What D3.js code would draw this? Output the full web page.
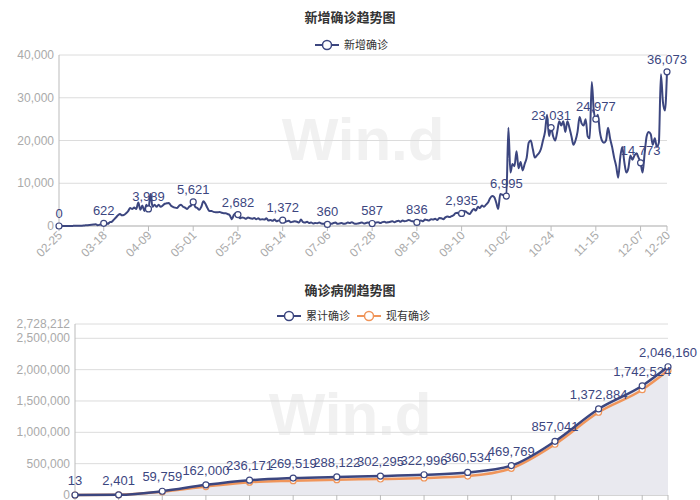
<!DOCTYPE html>
<html><head><meta charset="utf-8">
<script src="https://cdn.jsdelivr.net/npm/d3@7"></script>
<style>
body{margin:0;background:#fff;font-family:"Liberation Sans","Noto Sans CJK SC",sans-serif;}
</style></head><body><div id="chart"></div>
<script>
// daily new cases, 02-25 .. 12-20
const dailyNew = [].concat(
  [0,0,5,10,10,15,20,30,40,50,60,80,100,150,200,250,300,350,400,200,300,450],
  [622,800,500,900,1000,1500,2000,2500,2800,2500,2600,3000,3500,4200,4000,4300,4000,5500,3800,4800,3500,5000],
  [3989,7500,4500,5000,4500,5000,4500,4800,5200,5300,5400,4800,4500,4300,4200,4700,5000,4500,4300,4000,4500,4800],
  [5621,4500,4200,3800,4500,5800,5200,4200,3500,3500,3300,3200,3200,3300,3100,3000,3000,2800,2500,1600,2600,3000],
  [2682,1800,2000,1900,1700,2000,1800,1700,1900,1600,1800,1500,1600,1500,1800,1300,1400,1200,1500,1100,1300,1200],
  [1372,1000,1100,1200,900,1000,1100,1000,800,1500,900,800,1000,700,800,600,700,650,800,600,500,550],
  [360,600,500,700,800,500,600,700,500,600,800,700,900,600,500,600,700,800,600,700,800,600],
  [587,700,800,900,700,900,1000,800,900,1000,1100,900,1100,1200,1000,1300,1100,1200,1400,1200,1100,1000],
  [836,1200,1300,1100,1500,1400,1300,1600,1500,1700,1400,1900,1800,1600,2000,2200,2100,2300,2500,3000,3100,2600],
  [2935,3500,3400,3000,2800,3500,4000,3600,4500,4200,4800,4500,5000,5500,6500,7000,6800,5500,4000,7500,7300,7200],
  [6995,23000,12500,14500,14000,17500,13500,15000,13000,14500,16000,19500,20000,18000,16000,16500,17000,18000,20000,22000,26000,21000],
  [23031,21000,20000,22000,24500,23500,24500,22000,24500,23000,21000,19000,20000,22000,25500,24000,23500,25000,21000,20500,33700,27000],
  [24977,26000,22000,20000,19500,20000,23000,20500,18500,16000,14000,11300,16000,18500,15000,12500,13500,16500,15500,16500,17000,16000],
  [14773,12500,17000,21000,22000,21500,19000,20500,18500,19500,35500,29000,27000,36073]
);
const tickDates = ["02-25","03-18","04-09","05-01","05-23","06-14","07-06","07-28","08-19","09-10","10-02","10-24","11-15","12-07","12-20"];
const tickDays = [0,22,44,66,88,110,132,154,176,198,220,242,264,286,299];
const cumCases = [13,2401,59759,162000,236171,269519,288122,302295,322996,360534,469769,857041,1372884,1742524,2046160];
const curCases = [13,2300,52000,135000,205000,228000,244000,255000,271000,302000,425000,810000,1320000,1680000,1985000];

const navy = "#3c467f", orange = "#f0955a", grid = "#dcdcdc", axisTxt = "#aaa";
const cjk = "'Noto Sans CJK SC',sans-serif";
const svg = d3.select("#chart").append("svg").attr("width",700).attr("height",500);

function watermark(cx, cy){
  svg.append("text").attr("x",cx).attr("y",cy).attr("text-anchor","middle")
    .attr("font-family","Liberation Sans,Arial,sans-serif").attr("font-weight","bold")
    .attr("font-size",60).attr("fill","#f1f1f1").text("Win.d");
}
function title(t, y){
  svg.append("text").attr("x",350).attr("y",y).attr("text-anchor","middle").attr("font-family",cjk)
    .attr("font-size",13).attr("font-weight","bold").attr("fill","#333").text(t);
}
function legendItem(x, y, color, label){
  const g = svg.append("g").attr("transform",`translate(${x},${y})`);
  g.append("line").attr("x1",0).attr("x2",24).attr("stroke",color).attr("stroke-width",2);
  g.append("circle").attr("cx",12).attr("r",4.5).attr("fill","#fff").attr("stroke",color).attr("stroke-width",1.5);
  g.append("text").attr("x",29).attr("y",4).attr("font-family",cjk).attr("font-size",11).attr("fill","#333").text(label);
}
function yGrid(y, ticks, x0, x1){
  ticks.forEach(t => {
    svg.append("line").attr("x1",x0).attr("x2",x1).attr("y1",y(t)).attr("y2",y(t)).attr("stroke",grid);
    svg.append("text").attr("x",x0-5).attr("y",y(t)+4).attr("text-anchor","end")
      .attr("font-size",12).attr("fill",axisTxt).text(d3.format(",")(t));
  });
}

// ---- top chart
title("新增确诊趋势图", 22);
legendItem(315, 45, navy, "新增确诊");
watermark(363, 160);
const x1 = d3.scaleLinear().domain([0, dailyNew.length-1]).range([59, 667]);
const y1 = d3.scaleLinear().domain([0, 40000]).range([226, 55]);
yGrid(y1, [0,10000,20000,30000,40000], 59, 667);
svg.append("line").attr("x1",59).attr("x2",59).attr("y1",55).attr("y2",226).attr("stroke","#bbb");
svg.append("line").attr("x1",59).attr("x2",667).attr("y1",226).attr("y2",226).attr("stroke","#bbb");
tickDays.forEach((d,i) => {
  svg.append("line").attr("x1",x1(d)).attr("x2",x1(d)).attr("y1",226).attr("y2",231).attr("stroke","#bbb");
  svg.append("text").attr("transform",`translate(${x1(d)+4},${236}) rotate(-45)`)
    .attr("text-anchor","end").attr("font-size",12).attr("fill",axisTxt).text(tickDates[i]);
});
svg.append("path").datum(dailyNew)
  .attr("d", d3.line().x((d,i)=>x1(i)).y(d=>y1(d)).curve(d3.curveMonotoneX))
  .attr("fill","none").attr("stroke",navy).attr("stroke-width",2);
tickDays.forEach(d => {
  const v = dailyNew[d];
  svg.append("circle").attr("cx",x1(d)).attr("cy",y1(v)).attr("r",3).attr("fill","#fff").attr("stroke",navy).attr("stroke-width",1.2);
  svg.append("text").attr("x",x1(d)).attr("y",y1(v)-8).attr("text-anchor","middle")
    .attr("font-size",13).attr("fill",navy).text(d3.format(",")(v));
});

// ---- bottom chart
title("确诊病例趋势图", 295);
legendItem(277, 316, navy, "累计确诊");
legendItem(357, 316, orange, "现有确诊");
watermark(350, 435);
const x2 = d3.scaleLinear().domain([0, 299]).range([75, 668]);
const y2 = d3.scaleLinear().domain([0, 2728212]).range([495, 324]);
yGrid(y2, [0,500000,1000000,1500000,2000000,2500000,2728212], 75, 668);
svg.append("line").attr("x1",75).attr("x2",75).attr("y1",324).attr("y2",495).attr("stroke","#bbb");
svg.append("line").attr("x1",75).attr("x2",668).attr("y1",495).attr("y2",495).attr("stroke","#bbb");
tickDays.forEach(d => {
  svg.append("line").attr("x1",x2(d)).attr("x2",x2(d)).attr("y1",495).attr("y2",500).attr("stroke","#bbb");
});
svg.append("path").datum(cumCases)
  .attr("d", d3.area().x((d,i)=>x2(tickDays[i])).y0(y2(0)).y1(d=>y2(d)).curve(d3.curveMonotoneX))
  .attr("fill","#e9e9ef");
[[curCases, orange],[cumCases, navy]].forEach(([arr,c]) => {
  svg.append("path").datum(arr)
    .attr("d", d3.line().x((d,i)=>x2(tickDays[i])).y(d=>y2(d)).curve(d3.curveMonotoneX))
    .attr("fill","none").attr("stroke",c).attr("stroke-width",2.5);
  arr.forEach((v,i) => svg.append("circle").attr("cx",x2(tickDays[i])).attr("cy",y2(v)).attr("r",3)
    .attr("fill","#fff").attr("stroke",c).attr("stroke-width",1.2));
});
cumCases.forEach((v,i) => {
  svg.append("text").attr("x",x2(tickDays[i])).attr("y",y2(v)-10).attr("text-anchor","middle")
    .attr("font-size",13).attr("fill",navy).text(d3.format(",")(v));
});
</script></body></html>
